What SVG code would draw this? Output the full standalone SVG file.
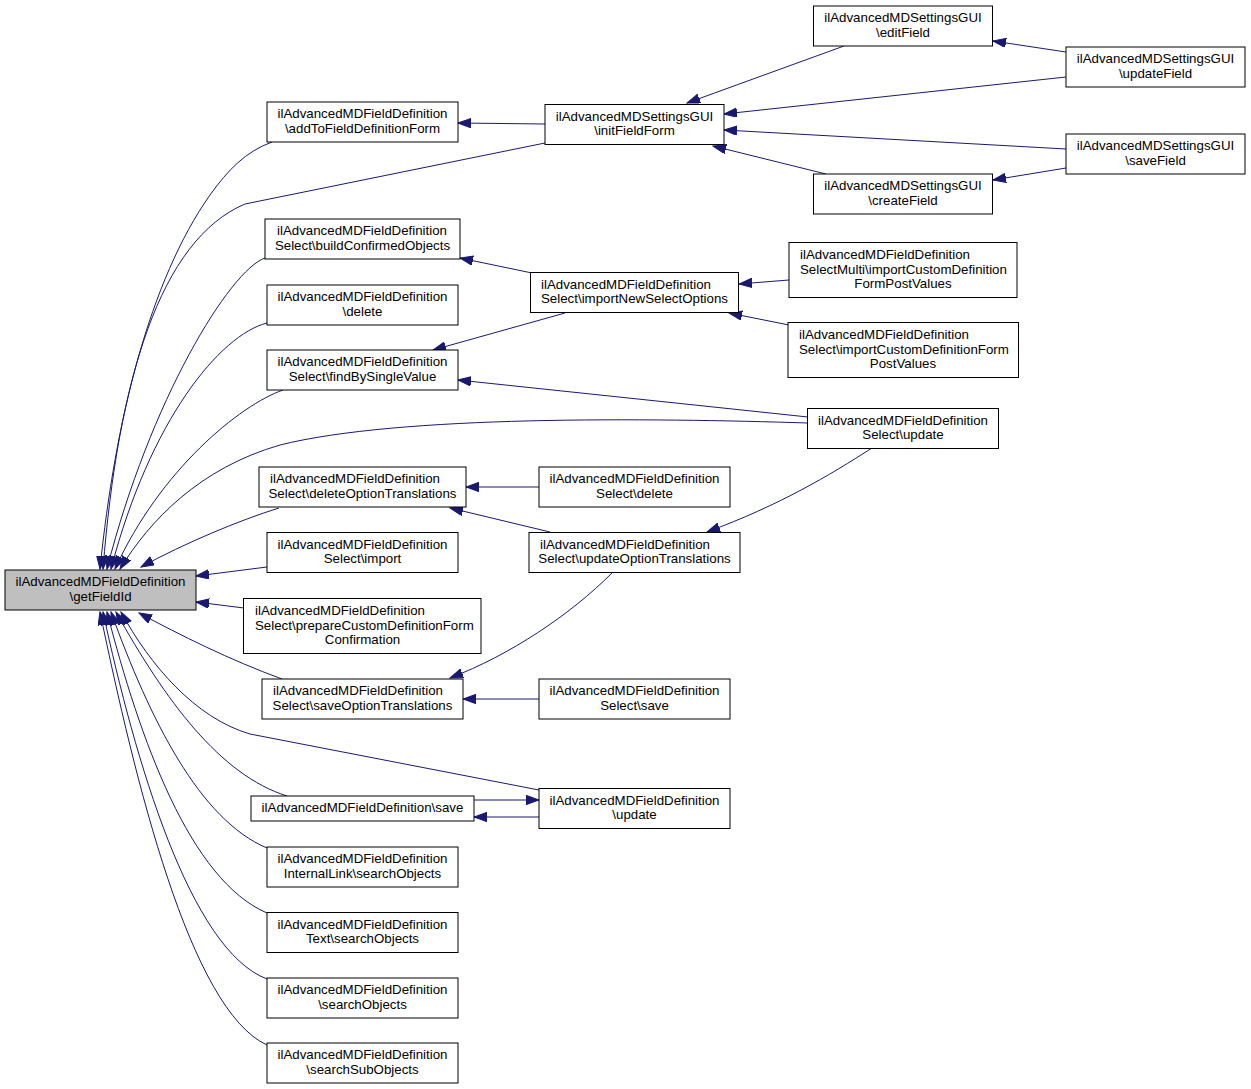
<svg xmlns="http://www.w3.org/2000/svg" width="1251" height="1089" viewBox="0 0 1251 1089">
<style>
  .n rect { fill: #ffffff; stroke: #000000; stroke-width: 1; }
  .n.sel rect { fill: #bfbfbf; }
  .n text { font-family: "Liberation Sans", Arial, Helvetica, sans-serif; font-size: 13.3px; fill: #000000; }
  .m { text-anchor: middle; }
  .s { text-anchor: start; }
  #edges path { fill: none; stroke: #191970; stroke-width: 1; marker-end: url(#arr); }
</style>
<defs>
  <marker id="arr" markerUnits="userSpaceOnUse" markerWidth="14" markerHeight="10" refX="13" refY="4.7" orient="auto">
    <path d="M0,0 L13,4.7 L0,9.4 Z" fill="#191970" stroke="#191970" stroke-width="1"/>
  </marker>
</defs>
<rect x="0" y="0" width="1251" height="1089" fill="#ffffff"/>
<g id="edges">
  <!-- to getFieldId (top) -->
  <path d="M272,142 C245,152 228,170 210,195 C150,280 115,420 100,569"/>
  <path d="M545,143 L245,204 C160,240 118,380 103,569"/>
  <path d="M265,258 C230,270 150,400 107,569"/>
  <path d="M267,323 C220,335 150,420 111,569"/>
  <path d="M283,390 C240,405 160,470 115,569"/>
  <path d="M808,423 C650,418 400,415 280,445 C200,468 150,520 120,569"/>
  <path d="M279,508 C240,520 185,543 141,567"/>
  <path d="M267,567 L196,576"/>
  <path d="M244,608 L196,602"/>
  <!-- to getFieldId (bottom) -->
  <path d="M282,679 C230,660 180,635 139,613"/>
  <path d="M539,790 L250,734 C195,718 150,665 121,612"/>
  <path d="M287,796 C220,775 165,700 116,612"/>
  <path d="M267,848 C200,820 150,720 111,612"/>
  <path d="M267,913 C190,880 140,740 107,612"/>
  <path d="M267,979 C190,950 135,760 103,612"/>
  <path d="M267,1045 C190,1010 135,780 100,612"/>
  <!-- others -->
  <path d="M545,124 L458,123"/>
  <path d="M844,46 L687,103"/>
  <path d="M1066,52 L993,41"/>
  <path d="M1066,77 L724,114"/>
  <path d="M1066,149 L724,130"/>
  <path d="M826,174 L713,146"/>
  <path d="M1066,168 L993,180"/>
  <path d="M532,273 L460,258"/>
  <path d="M565,313 L433,350"/>
  <path d="M789,280 L739,284"/>
  <path d="M789,325 L729,313"/>
  <path d="M808,417 L458,380"/>
  <path d="M872,448 C830,475 780,505 707,532"/>
  <path d="M539,487 L466,487"/>
  <path d="M550,532 L450,508"/>
  <path d="M612,573 C570,615 510,655 450,678"/>
  <path d="M539,699 L463,699"/>
  <path d="M474,800 L539,800"/>
  <path d="M539,817 L474,817"/>
</g>

<g id="getFieldId" class="n sel">
  <rect x="5" y="570" width="191" height="40"/>
  <text class="m" x="100.5" y="586">ilAdvancedMDFieldDefinition</text>
  <text class="m" x="100.5" y="600.5">\getFieldId</text>
</g>
<g id="addToFieldDefinitionForm" class="n">
  <rect x="267" y="102" width="191" height="40"/>
  <text class="m" x="362.5" y="118">ilAdvancedMDFieldDefinition</text>
  <text class="m" x="362.5" y="132.5">\addToFieldDefinitionForm</text>
</g>
<g id="initFieldForm" class="n">
  <rect x="545" y="104.5" width="179" height="40"/>
  <text class="m" x="634.5" y="120.5">ilAdvancedMDSettingsGUI</text>
  <text class="m" x="634.5" y="135">\initFieldForm</text>
</g>
<g id="editField" class="n">
  <rect x="813.5" y="6" width="179" height="40"/>
  <text class="m" x="903" y="22">ilAdvancedMDSettingsGUI</text>
  <text class="m" x="903" y="36.5">\editField</text>
</g>
<g id="updateField" class="n">
  <rect x="1066" y="47" width="179" height="40"/>
  <text class="m" x="1155.5" y="63">ilAdvancedMDSettingsGUI</text>
  <text class="m" x="1155.5" y="77.5">\updateField</text>
</g>
<g id="saveField" class="n">
  <rect x="1066" y="134" width="179" height="40"/>
  <text class="m" x="1155.5" y="150">ilAdvancedMDSettingsGUI</text>
  <text class="m" x="1155.5" y="164.5">\saveField</text>
</g>
<g id="createField" class="n">
  <rect x="813.5" y="174" width="179" height="40"/>
  <text class="m" x="903" y="190">ilAdvancedMDSettingsGUI</text>
  <text class="m" x="903" y="204.5">\createField</text>
</g>
<g id="buildConfirmedObjects" class="n">
  <rect x="265" y="219" width="195" height="40"/>
  <text class="s" x="277" y="235">ilAdvancedMDFieldDefinition</text>
  <text class="m" x="362.5" y="249.5">Select\buildConfirmedObjects</text>
</g>
<g id="delete" class="n">
  <rect x="267" y="285" width="191" height="40"/>
  <text class="m" x="362.5" y="301">ilAdvancedMDFieldDefinition</text>
  <text class="m" x="362.5" y="315.5">\delete</text>
</g>
<g id="findBySingleValue" class="n">
  <rect x="267" y="350" width="191" height="40"/>
  <text class="m" x="362.5" y="366">ilAdvancedMDFieldDefinition</text>
  <text class="m" x="362.5" y="380.5">Select\findBySingleValue</text>
</g>
<g id="importNewSelectOptions" class="n">
  <rect x="530.5" y="272.5" width="208" height="40"/>
  <text class="s" x="541" y="288.5">ilAdvancedMDFieldDefinition</text>
  <text class="m" x="634.5" y="303">Select\importNewSelectOptions</text>
</g>
<g id="multiImportCustomDefinitionFormPostValues" class="n">
  <rect x="789" y="242.5" width="228" height="55"/>
  <text class="s" x="800" y="259">ilAdvancedMDFieldDefinition</text>
  <text class="s" x="800" y="273.5">SelectMulti\importCustomDefinition</text>
  <text class="m" x="903" y="288">FormPostValues</text>
</g>
<g id="importCustomDefinitionFormPostValues" class="n">
  <rect x="788" y="322.5" width="230.5" height="55"/>
  <text class="s" x="799" y="339">ilAdvancedMDFieldDefinition</text>
  <text class="s" x="799" y="353.5">Select\importCustomDefinitionForm</text>
  <text class="m" x="903" y="368">PostValues</text>
</g>
<g id="selectUpdate" class="n">
  <rect x="807.5" y="408.5" width="191" height="40"/>
  <text class="m" x="903" y="424.5">ilAdvancedMDFieldDefinition</text>
  <text class="m" x="903" y="439">Select\update</text>
</g>
<g id="deleteOptionTranslations" class="n">
  <rect x="259" y="467" width="207" height="40"/>
  <text class="s" x="270" y="483">ilAdvancedMDFieldDefinition</text>
  <text class="m" x="362.5" y="497.5">Select\deleteOptionTranslations</text>
</g>
<g id="selectDelete" class="n">
  <rect x="539" y="467" width="191" height="40"/>
  <text class="m" x="634.5" y="483">ilAdvancedMDFieldDefinition</text>
  <text class="m" x="634.5" y="497.5">Select\delete</text>
</g>
<g id="updateOptionTranslations" class="n">
  <rect x="529" y="532.5" width="211" height="40"/>
  <text class="s" x="540" y="548.5">ilAdvancedMDFieldDefinition</text>
  <text class="m" x="634.5" y="563">Select\updateOptionTranslations</text>
</g>
<g id="selectImport" class="n">
  <rect x="267" y="532.5" width="191" height="40"/>
  <text class="m" x="362.5" y="548.5">ilAdvancedMDFieldDefinition</text>
  <text class="m" x="362.5" y="563">Select\import</text>
</g>
<g id="prepareCustomDefinitionFormConfirmation" class="n">
  <rect x="243.5" y="598.5" width="237.5" height="55"/>
  <text class="s" x="255" y="615">ilAdvancedMDFieldDefinition</text>
  <text class="s" x="255" y="629.5">Select\prepareCustomDefinitionForm</text>
  <text class="m" x="362.5" y="644">Confirmation</text>
</g>
<g id="saveOptionTranslations" class="n">
  <rect x="262" y="679" width="201" height="40"/>
  <text class="s" x="273" y="695">ilAdvancedMDFieldDefinition</text>
  <text class="m" x="362.5" y="709.5">Select\saveOptionTranslations</text>
</g>
<g id="selectSave" class="n">
  <rect x="539" y="679" width="191" height="40"/>
  <text class="m" x="634.5" y="695">ilAdvancedMDFieldDefinition</text>
  <text class="m" x="634.5" y="709.5">Select\save</text>
</g>
<g id="save" class="n">
  <rect x="251" y="796" width="223" height="25"/>
  <text class="m" x="362.5" y="812">ilAdvancedMDFieldDefinition\save</text>
</g>
<g id="update" class="n">
  <rect x="539" y="788.5" width="191" height="40"/>
  <text class="m" x="634.5" y="804.5">ilAdvancedMDFieldDefinition</text>
  <text class="m" x="634.5" y="819">\update</text>
</g>
<g id="internalLinkSearchObjects" class="n">
  <rect x="267" y="847" width="191" height="40"/>
  <text class="m" x="362.5" y="863">ilAdvancedMDFieldDefinition</text>
  <text class="m" x="362.5" y="877.5">InternalLink\searchObjects</text>
</g>
<g id="textSearchObjects" class="n">
  <rect x="267" y="912.5" width="191" height="40"/>
  <text class="m" x="362.5" y="928.5">ilAdvancedMDFieldDefinition</text>
  <text class="m" x="362.5" y="943">Text\searchObjects</text>
</g>
<g id="searchObjects" class="n">
  <rect x="267" y="978" width="191" height="40"/>
  <text class="m" x="362.5" y="994">ilAdvancedMDFieldDefinition</text>
  <text class="m" x="362.5" y="1008.5">\searchObjects</text>
</g>
<g id="searchSubObjects" class="n">
  <rect x="267" y="1043" width="191" height="40"/>
  <text class="m" x="362.5" y="1059">ilAdvancedMDFieldDefinition</text>
  <text class="m" x="362.5" y="1073.5">\searchSubObjects</text>
</g>
</svg>
